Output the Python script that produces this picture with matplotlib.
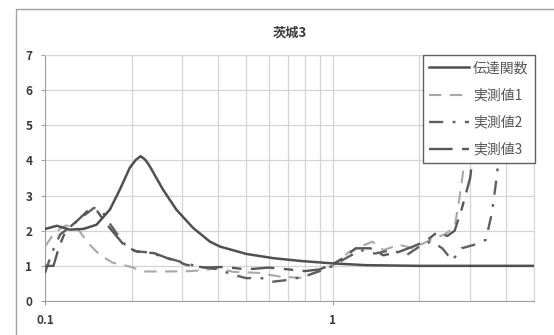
import matplotlib
matplotlib.use("Agg")
import matplotlib.pyplot as plt
import matplotlib.patches as mpatches
from matplotlib.ticker import FixedLocator, NullFormatter

plt.rcParams['font.family'] = ['Noto Sans CJK JP', 'DejaVu Sans']

# ── data (frequency [Hz] vs. amplitude ratio) ───────────────────────────
tf_f = [0.1, 0.11, 0.122, 0.136, 0.151, 0.168, 0.182, 0.197, 0.207, 0.215,
        0.223, 0.231, 0.257, 0.286, 0.327, 0.374, 0.405, 0.5, 0.62, 0.77,
        1.0, 1.3, 2.0, 3.0, 5.0]
tf_v = [2.05, 2.14, 2.03, 2.05, 2.17, 2.6, 3.17, 3.79, 4.02, 4.12,
        4.02, 3.84, 3.17, 2.6, 2.08, 1.69, 1.55, 1.34, 1.22, 1.14,
        1.07, 1.02, 1.0, 1.0, 1.0]

m1_f = [0.1, 0.108, 0.118, 0.128, 0.132, 0.141, 0.155, 0.172, 0.197, 0.22,
        0.27, 0.32, 0.365, 0.4, 0.45, 0.55, 0.65, 0.77, 0.88, 1.0,
        1.14, 1.37, 1.5, 1.7, 1.9, 2.2, 2.45, 2.65, 2.75, 2.85,
        2.95, 3.05]
m1_v = [1.55, 1.95, 2.15, 2.1, 1.98, 1.65, 1.31, 1.09, 0.98, 0.84,
        0.84, 0.85, 0.89, 0.94, 0.83, 0.8, 0.7, 0.66, 0.83, 1.0,
        1.4, 1.69, 1.45, 1.6, 1.5, 1.75, 1.9, 2.1, 2.9, 3.8,
        5.0, 7.5]

m2_f = [0.1, 0.106, 0.113, 0.122, 0.135, 0.148, 0.158, 0.168, 0.18, 0.19,
        0.205, 0.23, 0.26, 0.3, 0.34, 0.4, 0.45, 0.5, 0.56, 0.62,
        0.7, 0.8, 0.9, 1.0, 1.1, 1.25, 1.4, 1.6, 1.8, 2.0,
        2.2, 2.4, 2.6, 2.8, 3.1, 3.4, 3.57, 3.72, 3.85, 4.0]
m2_v = [0.8, 1.4, 1.9, 2.1, 2.4, 2.65, 2.55, 2.2, 1.85, 1.6,
        1.42, 1.38, 1.25, 1.1, 0.98, 0.9, 0.75, 0.65, 0.66, 0.55,
        0.6, 0.7, 0.85, 1.0, 1.2, 1.45, 1.35, 1.45, 1.3, 1.55,
        1.7, 1.5, 1.15, 1.5, 1.6, 1.74, 2.5, 3.6, 5.0, 7.5]

m3_f = [0.1, 0.107, 0.112, 0.118, 0.13, 0.142, 0.152, 0.165, 0.175, 0.19,
        0.21, 0.24, 0.27, 0.31, 0.36, 0.42, 0.5, 0.6, 0.7, 0.8,
        0.9, 1.0, 1.1, 1.2, 1.35, 1.5, 1.7, 1.9, 2.1, 2.3,
        2.5, 2.65, 2.8, 3.0, 3.1, 3.2]
m3_v = [1.0, 1.0, 1.55, 2.0, 2.3, 2.6, 2.55, 2.15, 1.9, 1.55,
        1.4, 1.36, 1.2, 1.03, 0.95, 0.97, 0.9, 0.95, 0.9, 0.85,
        0.9, 1.05, 1.25, 1.5, 1.5, 1.3, 1.4, 1.55, 1.7, 1.95,
        1.85, 2.0, 2.6, 3.5, 4.5, 7.5]

labels = ['伝達関数', '実測値1', '実測値2', '実測値3']
title = '茨城3'

TEXT = '#3a3a3a'
GRID = '#d4d4d4'

fig = plt.figure(figsize=(5.54, 3.35), dpi=100)
fig.patch.set_facecolor('white')

# chart-area frame
fig.add_artist(mpatches.Rectangle((16 / 554, -0.1), 1.2, 1 - 9 / 335 + 0.1,
                                  transform=fig.transFigure, fill=False,
                                  edgecolor='#a0a0a0', linewidth=1.0))

ax = fig.add_axes([45 / 554, 1 - 301 / 335, (534 - 45) / 554, (301 - 55) / 335])
ax.set_xscale('log')
ax.set_xlim(0.1, 5)
ax.set_ylim(0, 7)

ax.plot(tf_f, tf_v, color='#505050', lw=1.8, label=labels[0], zorder=5)
ax.plot(m1_f, m1_v, color='#a8a8a8', lw=1.5, dashes=(6, 4), label=labels[1], zorder=3)
ax.plot(m2_f, m2_v, color='#606060', lw=1.7, dashes=(6, 4, 1.2, 4), label=labels[2], zorder=3)
ax.plot(m3_f, m3_v, color='#585858', lw=1.7, dashes=(10, 4, 4, 4), label=labels[3], zorder=3)

# grid
ax.xaxis.set_major_locator(FixedLocator([0.1, 1]))
ax.xaxis.set_minor_locator(FixedLocator([0.2, 0.3, 0.4, 0.5, 0.6, 0.7, 0.8, 0.9,
                                         2, 3, 4, 5]))
ax.xaxis.set_minor_formatter(NullFormatter())
ax.set_xticklabels(['0.1', '1'])
ax.set_yticks(range(0, 8))
ax.grid(True, which='both', color=GRID, lw=0.9)
ax.set_axisbelow(True)

for s in ['top', 'right']:
    ax.spines[s].set_color(GRID)
for s in ['left', 'bottom']:
    ax.spines[s].set_color('#a0a0a0')
ax.tick_params(which='major', length=3, color='#a0a0a0', labelsize=8.5,
               labelcolor=TEXT)
ax.tick_params(axis='y', pad=6)
ax.tick_params(axis='x', pad=6)
ax.tick_params(which='minor', length=0)
for t in ax.get_xticklabels() + ax.get_yticklabels():
    t.set_fontweight('bold')

ax.set_title(title, fontsize=9.5, color=TEXT, pad=13, x=0.5, fontweight='bold')

leg = ax.legend(loc='upper right', bbox_to_anchor=(1.002, 1.0), fontsize=10,
                frameon=True, fancybox=False, framealpha=1, edgecolor='#606060',
                handlelength=2.9, handletextpad=0.3, labelspacing=0.95,
                borderpad=0.45, borderaxespad=0.0)
leg.set_zorder(10)
leg.get_frame().set_linewidth(1.0)
for t in leg.get_texts():
    t.set_color('#555555')

fig.savefig('out.png', dpi=100, facecolor='white')
